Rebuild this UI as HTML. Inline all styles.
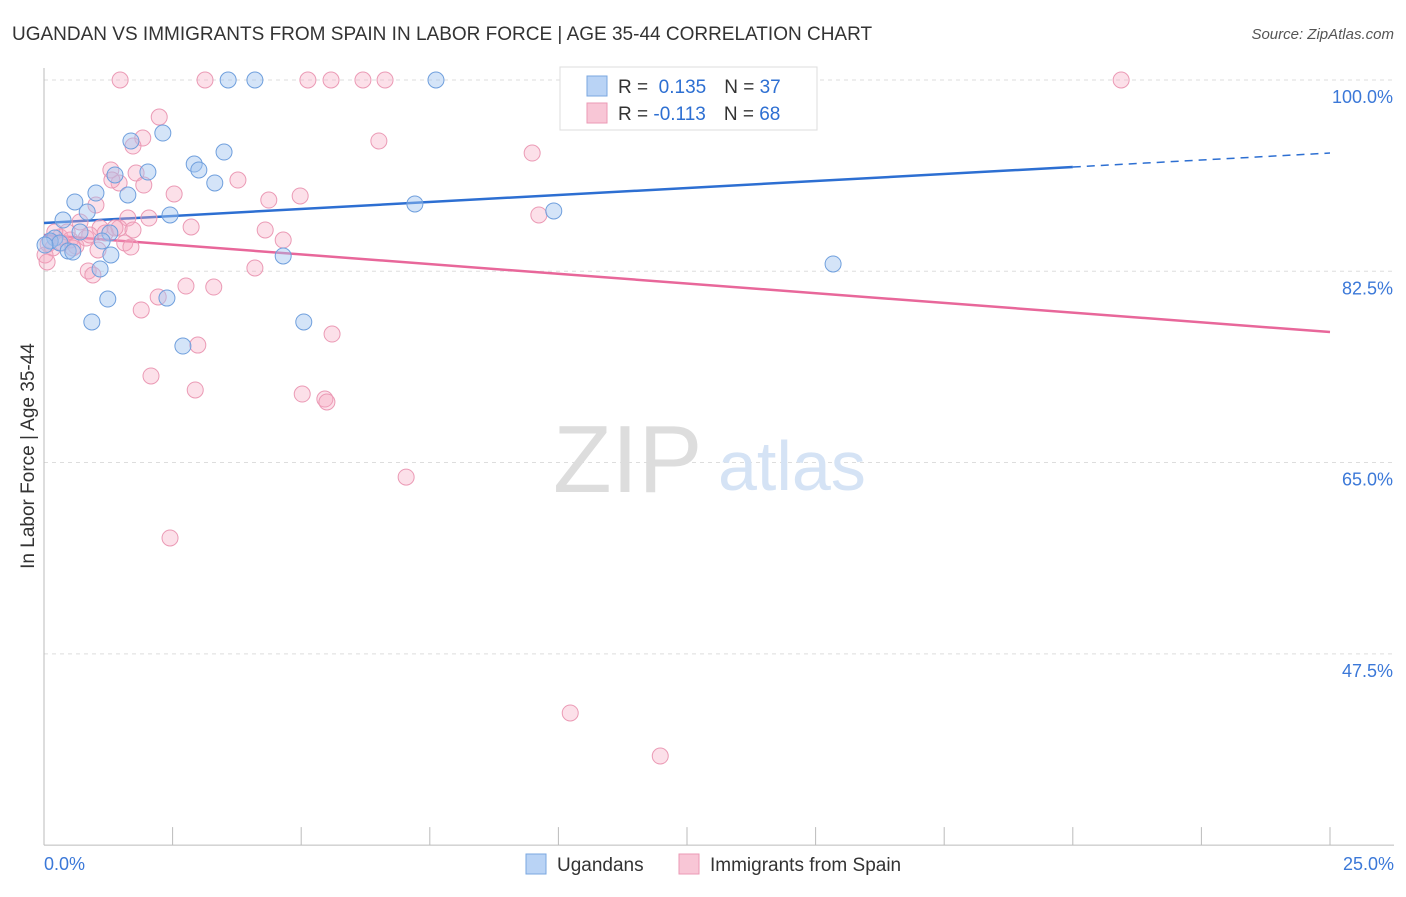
<!DOCTYPE html>
<html><head><meta charset="utf-8">
<style>
body{margin:0;background:#fff;font-family:"Liberation Sans",sans-serif;}
svg text{font-family:"Liberation Sans",sans-serif;}
</style></head>
<body>
<svg width="1406" height="892" id="chart">
<text x="12" y="40" font-size="19" fill="#333">UGANDAN VS IMMIGRANTS FROM SPAIN IN LABOR FORCE | AGE 35-44 CORRELATION CHART</text>
<text x="1394" y="39" font-size="15" fill="#555" text-anchor="end" font-style="italic">Source: ZipAtlas.com</text>
<text x="34" y="456" font-size="19" fill="#333" text-anchor="middle" transform="rotate(-90 34 456)">In Labor Force | Age 35-44</text>
<g id="grid"></g>
<text x="553" y="492" font-size="96" fill="#ddd" font-family="Liberation Serif">ZIP</text>
<text x="718" y="490" font-size="70" fill="#d5e3f5">atlas</text>
<g id="lines"></g>
<g id="points"></g>
<g>
<rect x="560" y="67" width="257" height="63" fill="#fff" stroke="#ddd"/>
<rect x="587" y="76" width="20" height="20" fill="#b9d3f5" stroke="#7aa7e0"/>
<text x="618" y="93" font-size="19" fill="#333">R = <tspan fill="#2d6fd2">&#160;0.135</tspan><tspan dx="18">N = </tspan><tspan fill="#2d6fd2">37</tspan></text>
<rect x="587" y="103" width="20" height="20" fill="#f8c6d6" stroke="#eb9ab5"/>
<text x="618" y="120" font-size="19" fill="#333">R = <tspan fill="#2d6fd2">-0.113</tspan><tspan dx="18">N = </tspan><tspan fill="#2d6fd2">68</tspan></text>
</g>
<g>
<rect x="526" y="854" width="20" height="20" fill="#b9d3f5" stroke="#7aa7e0"/>
<text x="557" y="871" font-size="19" fill="#333">Ugandans</text>
<rect x="679" y="854" width="20" height="20" fill="#f8c6d6" stroke="#eb9ab5"/>
<text x="710" y="871" font-size="19" fill="#333">Immigrants from Spain</text>
</g>
</svg>
<script>
const yTicks=[100,82.5,65,47.5];
const xTickLabels=["0.0%","25.0%"];
const blueX=[3.58,4.10,7.62,2.31,1.69,3.50,2.92,3.01,2.02,1.38,3.32,1.01,1.63,0.60,0.84,2.45,0.37,7.21,9.91,0.70,1.28,0.21,0.12,1.13,0.31,0.47,0.56,1.30,4.65,1.09,15.34,1.24,2.39,0.93,5.05,2.70,0.02];
const blueY=[100,100,100,95.15,94.42,93.41,92.31,91.77,91.58,91.31,90.58,89.66,89.48,88.84,87.92,87.65,87.19,88.66,88.02,86.09,86.00,85.54,85.27,85.27,85.09,84.36,84.26,83.99,83.90,82.71,83.17,79.96,80.05,77.86,77.86,75.66,84.90];
const pinkX=[1.48,3.13,5.13,5.58,6.20,6.63,20.94,2.24,1.92,1.73,6.51,9.49,1.30,1.79,1.46,1.94,3.77,2.53,4.37,4.98,1.01,0.70,1.63,2.04,2.86,9.62,4.30,4.65,1.09,1.46,1.73,1.19,0.31,0.51,0.08,0.17,0.62,1.57,1.69,0.82,0.86,0.95,4.10,2.76,3.30,2.22,1.89,5.60,2.99,2.08,2.94,5.02,5.46,5.50,7.04,2.45,10.23,11.98,0.02,0.35,1.32,0.89,0.45,0.21,1.05,1.38,0.56,0.06];
const pinkY=[100,100,100,100,100,100,100,96.61,94.69,93.96,94.42,93.32,91.77,91.49,90.58,90.39,90.85,89.57,89.02,89.39,88.56,87.01,87.37,87.37,86.55,87.65,86.28,85.36,86.46,86.46,86.28,86.00,85.64,85.36,85.00,84.63,84.81,85.09,84.72,85.54,82.53,82.16,82.80,81.15,81.06,80.15,78.96,76.76,75.75,72.92,71.64,71.27,70.81,70.54,63.67,58.10,42.09,38.15,83.99,85.09,90.85,85.82,86.09,86.09,84.45,86.46,84.63,83.35];
const blueTrend=[86.92,93.32];
const pinkTrend=[85.82,76.94];
const NS="http://www.w3.org/2000/svg";
const sx=v=>44+v*51.44;
const sy=v=>80+(100-v)*10.93;
function mk(tag,attrs,parent){const e=document.createElementNS(NS,tag);for(const k in attrs)e.setAttribute(k,attrs[k]);parent.appendChild(e);return e;}
const grid=document.getElementById('grid');
yTicks.forEach(t=>{
 const l=mk('line',{x1:44,x2:1394,y1:sy(t),y2:sy(t),stroke:'#ddd','stroke-dasharray':'4 4'},grid);
 
 
 const tx=mk('text',{x:1393,y:sy(t)+23,'font-size':18,fill:'#3b78d8','text-anchor':'end'},grid);
 tx.textContent=t.toFixed(1)+'%';
 
 
});
const yb=sy(30);
let ax=mk('line',{x1:44,x2:44,y1:68,y2:yb,stroke:'#bbb'},grid);


ax=mk('line',{x1:44,x2:1394,y1:yb,y2:yb,stroke:'#bbb'},grid);


for(let i=1;i<=10;i++){const t=mk('line',{x1:sx(i*2.5),x2:sx(i*2.5),y1:yb-18,y2:yb,stroke:'#bbb'},grid);
 
 }
let xl=mk('text',{x:44,y:870,'font-size':18,fill:'#3b78d8'},grid);xl.textContent=xTickLabels[0];


xl=mk('text',{x:1394,y:870,'font-size':18,fill:'#3b78d8','text-anchor':'end'},grid);xl.textContent=xTickLabels[1];


const pts=document.getElementById('points');
pinkX.forEach((x,i)=>{const c=mk('circle',{cx:sx(x),cy:sy(pinkY[i]),r:8,fill:'rgba(245,165,192,0.35)',stroke:'#eb9ab5','stroke-width':1},pts);
 
 });
blueX.forEach((x,i)=>{const c=mk('circle',{cx:sx(x),cy:sy(blueY[i]),r:8,fill:'rgba(160,196,240,0.45)',stroke:'#6f9fdd','stroke-width':1},pts);
 
 });
const lines=document.getElementById('lines');
const by=x=>blueTrend[0]+(blueTrend[1]-blueTrend[0])*x/25;
let l=mk('line',{x1:sx(0),y1:sy(by(0)),x2:sx(20),y2:sy(by(20)),stroke:'#2d6fd2','stroke-width':2.5},lines);


l=mk('line',{x1:sx(20),y1:sy(by(20)),x2:sx(25),y2:sy(by(25)),stroke:'#2d6fd2','stroke-width':1.5,'stroke-dasharray':'8 6'},lines);


l=mk('line',{x1:sx(0),y1:sy(pinkTrend[0]),x2:sx(25),y2:sy(pinkTrend[1]),stroke:'#e8679a','stroke-width':2.5},lines);


</script>
</body></html>
